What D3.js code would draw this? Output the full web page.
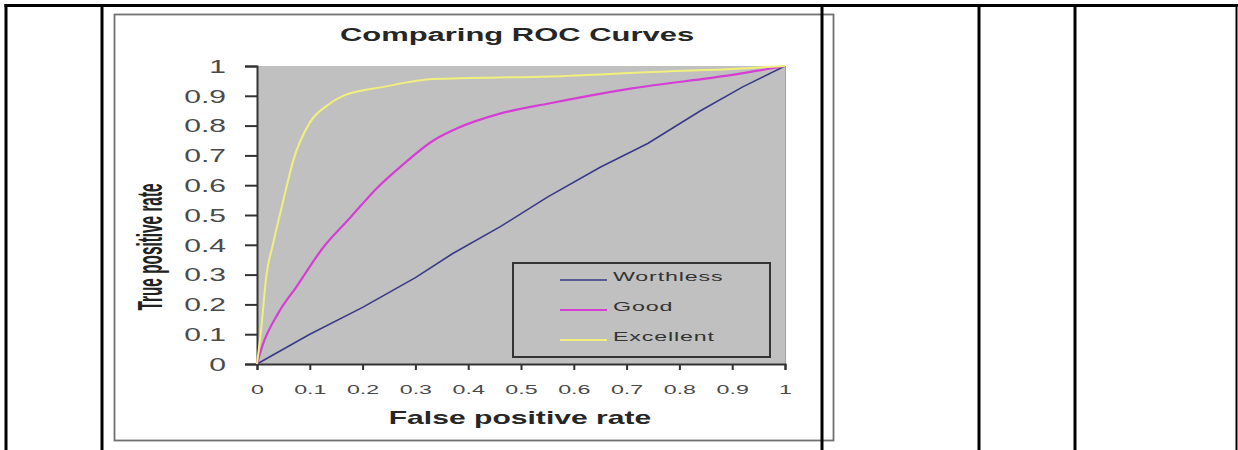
<!DOCTYPE html>
<html>
<head>
<meta charset="utf-8">
<script src="https://cdn.jsdelivr.net/npm/d3@7"></script>
<style>
  html, body { margin: 0; padding: 0; background: #fff; }
  svg { display: block; }
</style>
</head>
<body>
<svg id="chart" width="1238" height="450"></svg>
<script>
// ---------- data ----------
const chartTitle = "Comparing ROC Curves";
const xTitle = "False positive rate";
const yTitle = "True positive rate";
const seriesNames = ["Worthless", "Good", "Excellent"];
const seriesColors = ["#3a3a86", "#d43ed4", "#f2f07c"];

const worthlessFPR = [0, 0.1, 0.2, 0.3, 0.37, 0.46, 0.55, 0.65, 0.74, 0.84, 0.92, 1];
const worthlessTPR = [0, 0.1, 0.19, 0.29, 0.37, 0.46, 0.56, 0.66, 0.74, 0.85, 0.93, 1];

const goodFPR = [0, 0.01, 0.04, 0.075, 0.125, 0.176, 0.227, 0.277, 0.334, 0.378, 0.46, 0.555, 0.71, 0.9, 1];
const goodTPR = [0, 0.06, 0.17, 0.26, 0.39, 0.49, 0.59, 0.67, 0.75, 0.79, 0.84, 0.875, 0.925, 0.97, 1];

const excellentFPR = [0, 0.008, 0.018, 0.03, 0.05, 0.069, 0.1, 0.135, 0.163, 0.24, 0.334, 0.555, 0.75, 0.9, 1];
const excellentTPR = [0, 0.12, 0.3, 0.4, 0.55, 0.685, 0.81, 0.87, 0.9, 0.93, 0.956, 0.965, 0.98, 0.99, 1];

const xTicks = [0, 0.1, 0.2, 0.3, 0.4, 0.5, 0.6, 0.7, 0.8, 0.9, 1];
const yTicks = [0, 0.1, 0.2, 0.3, 0.4, 0.5, 0.6, 0.7, 0.8, 0.9, 1];

// page table grid lines (x positions of vertical rules)
const tableRules = [6, 102, 822, 979, 1075, 1236.5];

// ---------- drawing ----------
const SX = 1.72; // horizontal stretch of the original picture
const svg = d3.select("#chart");
const font = "'Liberation Sans', Arial, sans-serif";

const plot = { left: 257, right: 785, top: 66, bottom: 364 };
const x = d3.scaleLinear().domain([0, 1]).range([plot.left, plot.right]);
const y = d3.scaleLinear().domain([0, 1]).range([plot.bottom, plot.top]);

// chart frame
svg.append("rect")
  .attr("x", 114.5).attr("y", 14.5).attr("width", 719).attr("height", 426)
  .attr("fill", "#fff").attr("stroke", "#707070").attr("stroke-width", 1.8);

// title
svg.append("text")
  .attr("transform", `translate(517,41) scale(${SX},1)`)
  .attr("text-anchor", "middle")
  .style("font-family", font).style("font-weight", "bold").style("font-size", "18px")
  .attr("fill", "#262626")
  .text(chartTitle);

// plot background
svg.append("rect")
  .attr("x", plot.left).attr("y", plot.top)
  .attr("width", plot.right - plot.left).attr("height", plot.bottom - plot.top)
  .attr("fill", "#c0c0c0");
svg.append("line")
  .attr("x1", plot.right + 0.5).attr("x2", plot.right + 0.5)
  .attr("y1", plot.top).attr("y2", plot.bottom)
  .attr("stroke", "#a2a2a2").attr("stroke-width", 1);

// y axis
const yAxis = svg.append("g")
  .attr("transform", `translate(${plot.left},0)`)
  .call(d3.axisLeft(y).tickValues(yTicks).tickSize(12).tickFormat(d3.format("")));
yAxis.select(".domain").attr("stroke", "#333").attr("stroke-width", 2);
yAxis.selectAll(".tick line").attr("stroke", "#333").attr("stroke-width", 2);
yAxis.selectAll(".tick text")
  .attr("x", -31 / SX).attr("dy", "0.36em")
  .attr("transform", `scale(${SX},1)`)
  .style("font-family", font).style("font-size", "17.5px")
  .attr("fill", "#4a4a4a");

// x axis
const xAxis = svg.append("g")
  .attr("transform", `translate(0,${plot.bottom})`)
  .call(d3.axisBottom(x).tickValues(xTicks).tickSize(6).tickFormat(d3.format("")));
xAxis.select(".domain").attr("stroke", "#333").attr("stroke-width", 2);
xAxis.selectAll(".tick line").attr("stroke", "#333").attr("stroke-width", 2);
xAxis.selectAll(".tick text")
  .attr("y", 25).attr("dy", "0.36em")
  .attr("transform", `scale(${SX},1)`)
  .attr("x", 0)
  .style("font-family", font).style("font-size", "13.5px")
  .attr("fill", "#4a4a4a");

// axis titles
svg.append("text")
  .attr("transform", `translate(520,424) scale(${SX},1)`)
  .attr("text-anchor", "middle")
  .style("font-family", font).style("font-weight", "bold").style("font-size", "17.5px")
  .attr("fill", "#262626")
  .text(xTitle);

svg.append("text")
  .attr("transform", `translate(150,247) scale(${SX * 1.3},0.99) rotate(-90)`)
  .attr("text-anchor", "middle").attr("dy", "0.35em")
  .style("font-family", font).style("font-weight", "bold").style("font-size", "15.5px")
  .attr("fill", "#222")
  .text(yTitle);

// series
const series = [
  { name: seriesNames[0], color: seriesColors[0], fx: worthlessFPR, ty: worthlessTPR, w: 1.6, curve: d3.curveLinear },
  { name: seriesNames[1], color: seriesColors[1], fx: goodFPR, ty: goodTPR, w: 2.2, curve: d3.curveMonotoneX },
  { name: seriesNames[2], color: seriesColors[2], fx: excellentFPR, ty: excellentTPR, w: 2, curve: d3.curveMonotoneX }
];
series.forEach(s => {
  const pts = s.fx.map((v, i) => [v, s.ty[i]]);
  const line = d3.line().x(d => x(d[0])).y(d => y(d[1])).curve(s.curve);
  svg.append("path")
    .datum(pts)
    .attr("d", line)
    .attr("fill", "none")
    .attr("stroke", s.color)
    .attr("stroke-width", s.w)
    .attr("stroke-linejoin", "round");
});

// legend
const lg = svg.append("g");
lg.append("rect")
  .attr("x", 513).attr("y", 263).attr("width", 257).attr("height", 94)
  .attr("fill", "#c0c0c0").attr("stroke", "#333").attr("stroke-width", 2);
series.forEach((s, i) => {
  const yy = 280 + i * 30;
  lg.append("line")
    .attr("x1", 560).attr("x2", 607).attr("y1", yy).attr("y2", yy)
    .attr("stroke", s.color).attr("stroke-width", s.w);
  lg.append("text")
    .attr("transform", `translate(613,${yy - 4}) scale(${SX},1)`)
    .attr("dy", "0.36em")
    .style("font-family", font).style("font-size", "13.5px")
    .style("letter-spacing", "0.5px")
    .attr("fill", "#333")
    .text(s.name);
});

// page table rules (drawn on top)
const rules = svg.append("g");
rules.append("line")
  .attr("x1", 4.5).attr("x2", 1238).attr("y1", 5.5).attr("y2", 5.5)
  .attr("stroke", "#000").attr("stroke-width", 3);
rules.selectAll("line.v").data(tableRules).enter().append("line")
  .attr("class", "v")
  .attr("x1", d => d).attr("x2", d => d)
  .attr("y1", 4).attr("y2", 450)
  .attr("stroke", "#000").attr("stroke-width", d => d > 1230 ? 2 : 3);
</script>
</body>
</html>
